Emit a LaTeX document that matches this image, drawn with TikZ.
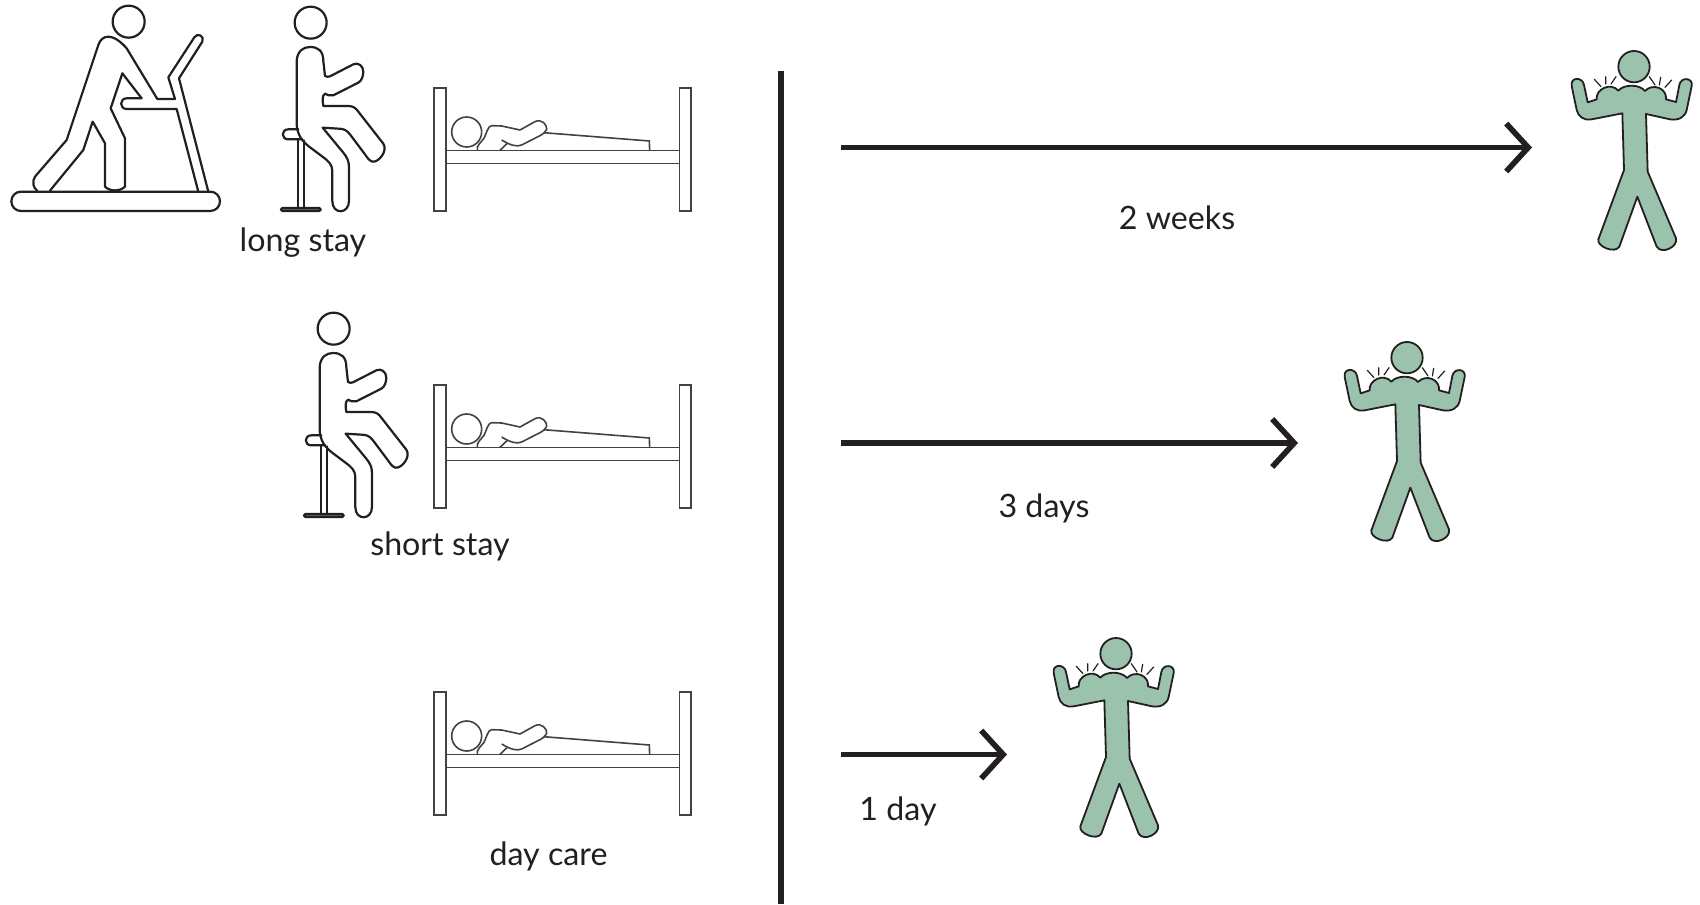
\documentclass[tikz,border=0pt]{standalone}
\usepackage{fontspec}
\setmainfont{Lato}
\usetikzlibrary{arrows.meta}
\definecolor{ink}{HTML}{231F20}
\definecolor{musc}{HTML}{9BC2AC}
\tikzset{
 icon/.style={draw=ink,line width=1.1pt,line join=round,line cap=round},
 thin icon/.style={draw=ink!85,line width=.8pt,line join=miter},
 zoomunits/.style={x=.5pt/3,y=-.5pt/3},
 lab/.style={font=\fontsize{16.1pt}{18pt}\selectfont,text=ink,inner sep=0pt},
 conn/.style={draw=ink,line width=2.8pt,-{Straight Barb[length=11pt,width=24pt,line width=2.8pt]}},
 person/.pic={
  \begin{scope}[zoomunits]
  \draw[icon] (932,65) circle[radius=48];
  \draw[icon] (890,180) .. controls (892,150) and (910,138) .. (930,138) .. controls (955,138) and (970,150) .. (970,180)
   -- (975,225) .. controls (980,228) and (985,228) .. (990,226) -- (1060,190) .. controls (1075,183) and (1090,195) .. (1090,212)
   .. controls (1090,225) and (1085,240) .. (1075,245) -- (1000,283) .. controls (990,285) and (980,282) .. (975,278)
   .. controls (965,285) and (968,300) .. (970,315) -- (1045,315) .. controls (1060,315) and (1068,322) .. (1075,332)
   -- (1150,428) .. controls (1165,450) and (1135,485) .. (1118,482) .. controls (1108,480) and (1102,470) .. (1095,460)
   -- (1050,400) .. controls (1040,387) and (1030,383) .. (1015,383) -- (968,380)
   -- (1030,455) .. controls (1042,470) and (1047,480) .. (1047,500) -- (1047,600)
   .. controls (1047,640) and (997,642) .. (997,600) -- (997,510) .. controls (997,490) and (985,480) .. (965,465)
   -- (925,435) .. controls (900,415) and (892,395) .. (890,370) -- cycle;
  \draw[icon] (895,385) -- (865,385) .. controls (843,385) and (843,415) .. (865,415) -- (905,415);
  \draw[icon] (893,418) -- (893,620) (912,418) -- (912,620);
  \draw[icon,fill=ink!60,rounded corners=.7pt] (843,621) rectangle (962,630);
  \end{scope}},
 walker/.pic={
  \begin{scope}[zoomunits]
  \draw[icon] (386,65) circle[radius=48];
  \draw[icon,rounded corners=4.8pt] (34,575) rectangle (660,633);
  \draw[icon] (150,572) -- (250,450) -- (278,365) -- (315,430) -- (315,560) .. controls (330,575) and (360,575) .. (375,560)
   -- (375,415) -- (332,325) -- (367,220) -- (425,295) -- (380,295) .. controls (358,295) and (358,327) .. (380,327)
   -- (530,327) -- (595,575);
  \draw[icon] (625,575) -- (537,235) -- (607,125) .. controls (615,108) and (592,97) .. (583,112) -- (505,232) -- (525,297)
   -- (472,297) -- (380,145) .. controls (360,122) and (340,110) .. (325,110) .. controls (310,110) and (300,120) .. (295,135)
   -- (200,420) -- (105,530) .. controls (95,545) and (100,565) .. (112,572);
  \end{scope}},
 sickbed/.pic={
  \begin{scope}[zoomunits]
  \draw[thin icon] (42,54) rectangle (78,423);
  \draw[thin icon] (778,54) rectangle (813,423);
  \draw[thin icon] (78,242) -- (778,242) (78,280) -- (778,280);
  \draw[thin icon] (140,186) circle[radius=45];
  \draw[thin icon,line join=round] (172,240) .. controls (168,228) and (185,215) .. (192,205) .. controls (200,190) and (203,168) .. (215,167)
   -- (245,168) -- (300,180) -- (345,155) .. controls (365,145) and (382,165) .. (380,178) .. controls (378,188) and (368,192) .. (360,197)
   -- (305,225) .. controls (290,232) and (270,225) .. (245,210);
  \draw[thin icon] (262,220) -- (240,241);
  \draw[thin icon] (370,188) -- (688,213) -- (689,242);
  \end{scope}},
 strongman/.pic={
  \begin{scope}[zoomunits]
  \draw[icon,line width=.9pt,fill=musc] (252,110) circle[radius=47];
  \draw[icon,line width=.9pt,fill=musc] (113,217) -- (140,208) .. controls (136,178) and (182,155) .. (205,182)
   .. controls (222,162) and (268,162) .. (285,183) .. controls (308,158) and (352,175) .. (348,208)
   -- (378,216) -- (388,165) .. controls (392,140) and (430,142) .. (425,168) -- (410,240)
   .. controls (405,262) and (385,272) .. (360,268) -- (288,252) -- (293,425) -- (378,625)
   .. controls (385,650) and (335,675) .. (320,650) -- (262,500) -- (208,650)
   .. controls (195,672) and (140,650) .. (145,628) -- (222,420) -- (217,250) -- (125,268)
   .. controls (100,272) and (85,260) .. (80,240) -- (65,168) .. controls (60,140) and (98,140) .. (102,165) -- cycle;
  \draw[icon,line width=.6pt] (133,148) -- (153,170) (167,140) -- (167,162) (198,140) -- (183,162)
   (298,140) -- (315,165) (332,142) -- (328,165) (365,150) -- (345,172);
  \end{scope}}
}
\begin{document}
\begin{tikzpicture}[x=.5pt,y=-.5pt]
\useasboundingbox (0,0) rectangle (1700,904);
\pic at (0,0) {walker};
\pic at (0,1) {person};
\pic at (23,307) {person};
\pic at (420,70) {sickbed};
\pic at (420,367) {sickbed};
\pic at (420,674) {sickbed};
\pic at (1550,30) {strongman};
\pic at (1323,321) {strongman};
\pic at (1032,617) {strongman};
\node[lab] (l1) at (303,243) {long stay};
\node[lab] (l2) at (440,546) {short stay};
\node[lab] (l3) at (548.5,856) {day care};
\node[lab] (t1) at (1177,218) {2 weeks};
\node[lab] (t2) at (1044,508) {3 days};
\node[lab] (t3) at (898,811) {1 day};
\coordinate (vtop) at (781,71);
\coordinate (vbot) at (781,904);
\draw[draw=ink,line width=2.8pt] (vtop) -- (vbot);
\coordinate (a1s) at (841,147.5);
\coordinate (a1e) at (1532,147.5);
\coordinate (a2s) at (841,443);
\coordinate (a2e) at (1298,443);
\coordinate (a3s) at (841,754.5);
\coordinate (a3e) at (1007,754.5);
\draw[conn] (a1s) -- (a1e);
\draw[conn] (a2s) -- (a2e);
\draw[conn] (a3s) -- (a3e);
\end{tikzpicture}
\end{document}
